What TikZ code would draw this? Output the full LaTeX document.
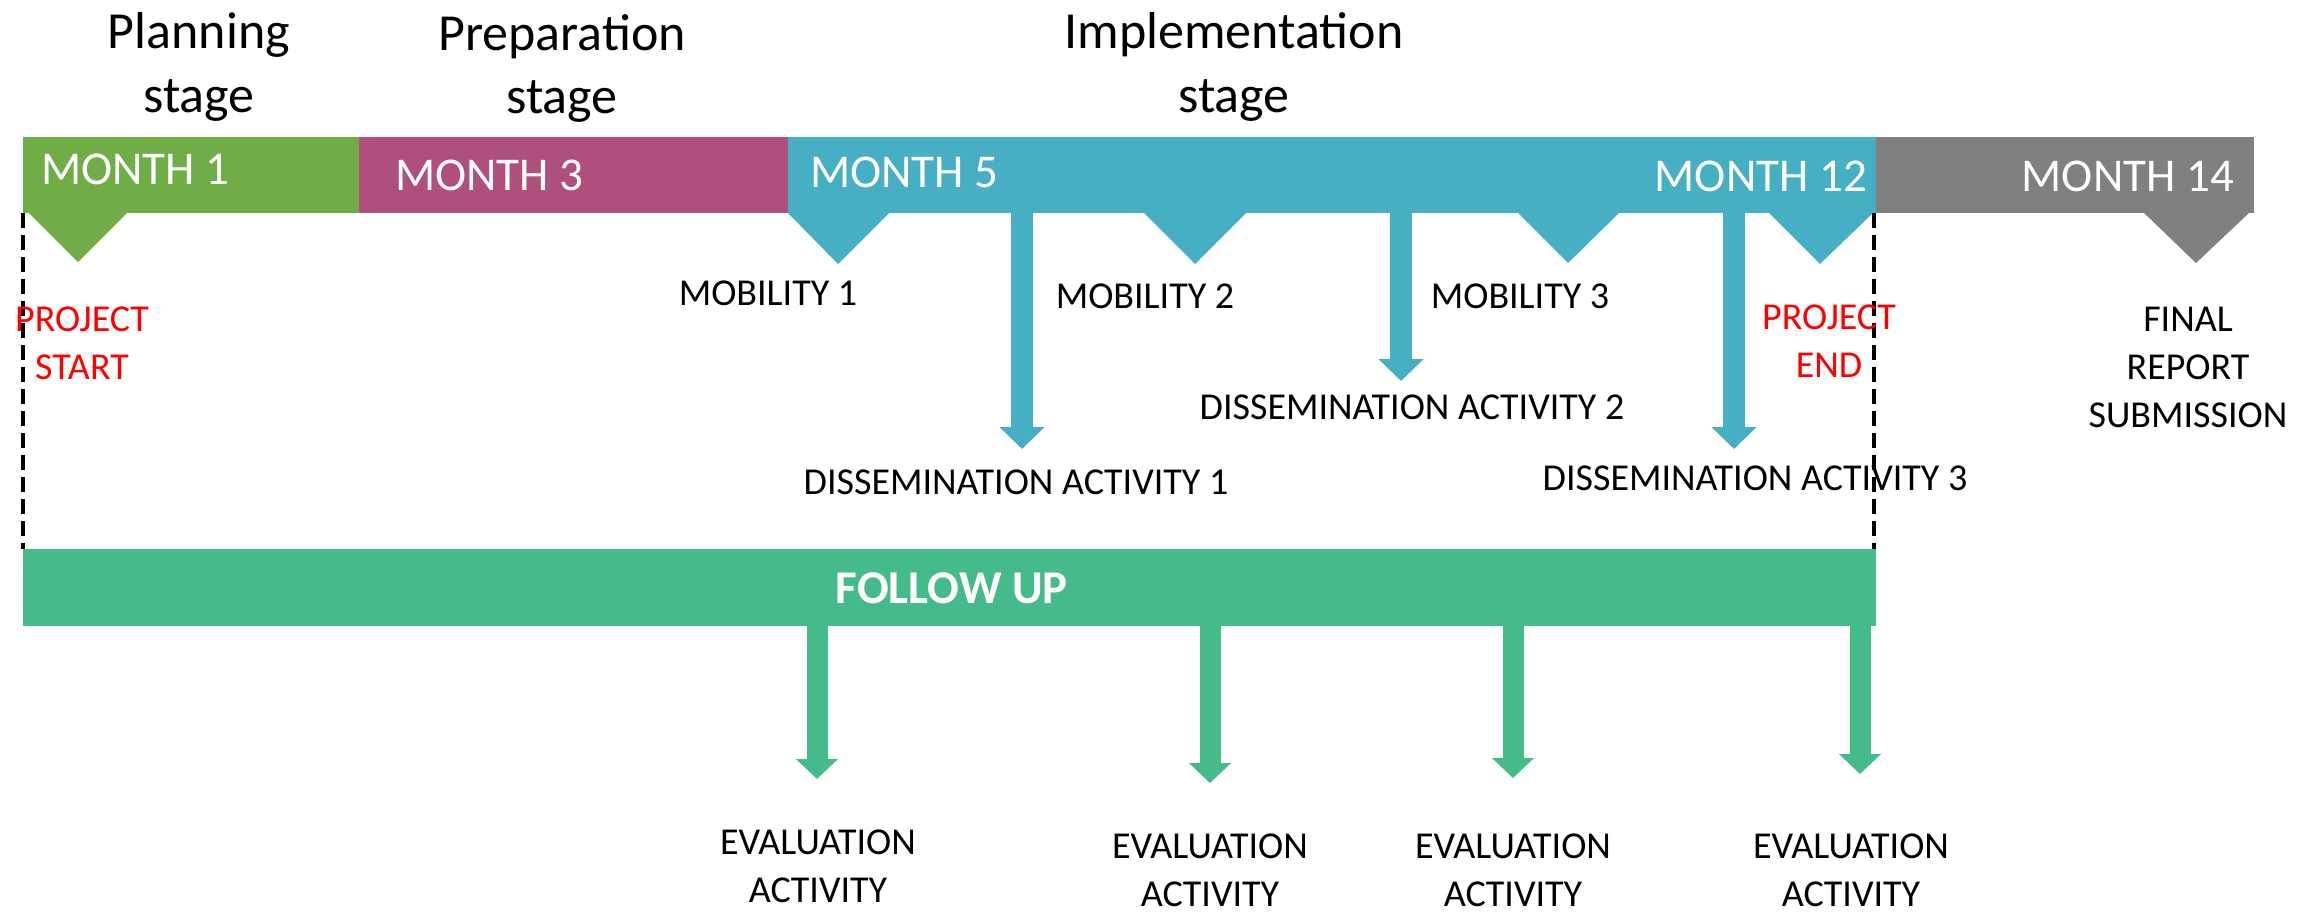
\documentclass[tikz,border=0pt]{standalone}
\usepackage{fontspec}
\setmainfont{Carlito}
\usetikzlibrary{arrows.meta}
\definecolor{mgreen}{HTML}{70AD47}
\definecolor{mpurple}{HTML}{AE4F7C}
\definecolor{mteal}{HTML}{47AFC3}
\definecolor{mgray}{HTML}{808080}
\definecolor{fgreen}{HTML}{45BB8C}
\definecolor{mred}{HTML}{FF0000}
\tikzset{
  barseg/.style={draw=none, inner sep=0pt, outer sep=0pt, anchor=north west, minimum height=76pt},
  title/.style={inner sep=0pt, anchor=base, font=\fontsize{52}{64}\selectfont},
  monthlbl/.style={inner sep=0pt, text=white, font=\fontsize{47}{56}\selectfont},
  lbl/.style={inner sep=0pt, anchor=base, align=center, font=\fontsize{38}{48}\selectfont},
  redlbl/.style={lbl, text=mred},
  tealarrow/.style={draw=mteal, line width=22pt, -{Triangle[width=44pt,length=22pt]}},
  greenarrow/.style={draw=fgreen, line width=21pt, -{Triangle[width=41pt,length=20pt]}},
  dashline/.style={draw=black, line width=4pt, dash pattern=on 15pt off 7pt},
}
\begin{document}
\begin{tikzpicture}[x=1pt,y=-1pt]
\useasboundingbox (0,0) rectangle (2323,911);
% titles
\node[title] (t1a) at (199,48) {Planning};
\node[title] (t1b) at (199,112) {stage};
\node[title] (t2a) at (562,50) {Preparation};
\node[title] (t2b) at (562,113) {stage};
\node[title] (t3a) at (1234,48) {Implementation};
\node[title] (t3b) at (1234,112) {stage};
% top bar
\node[barseg, fill=mgreen, minimum width=336pt] (b1) at (23,137) {};
\node[barseg, fill=mpurple, minimum width=429pt] (b2) at (359,137) {};
\node[barseg, fill=mteal, minimum width=1088pt] (b3) at (788,137) {};
\node[barseg, fill=mgray, minimum width=378pt] (b4) at (1876,137) {};
% triangles
\fill[mgreen] (28,212) -- (128,212) -- (78,262) -- cycle;
\fill[mteal] (787,212) -- (890,212) -- (838,264) -- cycle;
\fill[mteal] (1143,212) -- (1247,212) -- (1195,264) -- cycle;
\fill[mteal] (1517,212) -- (1620,212) -- (1568,263) -- cycle;
\fill[mteal] (1768,212) -- (1874,212) -- (1820,264) -- cycle;
\fill[mgray] (2143,212) -- (2250,212) -- (2196,263) -- cycle;
% month labels
\node[monthlbl, anchor=base west] (l1) at (41,184) {MONTH 1};
\node[monthlbl, anchor=base west] (l3) at (395,190) {MONTH 3};
\node[monthlbl, anchor=base west] (l5) at (810,187) {MONTH 5};
\node[monthlbl, anchor=base east] (l12) at (1867,191) {MONTH 12};
\node[monthlbl, anchor=base east] (l14) at (2234,191) {MONTH 14};
% follow up bar
\node[barseg, fill=fgreen, minimum width=1853pt, minimum height=77pt] (fu) at (23,549) {};
\node[inner sep=0pt, anchor=base, text=white, font=\fontsize{47}{56}\selectfont\bfseries] (fut) at (952,603) {FOLLOW UP};
% dashed lines
\draw[dashline] (b1.south west) -- (fu.north west);
\draw[dashline] ([xshift=-2pt]b3.south east) -- ([xshift=-2pt]fu.north east);
% teal arrows
\coordinate (d1) at (1022,449);
\coordinate (d2) at (1401,381);
\coordinate (d3) at (1734,449);
\draw[tealarrow] (b3.south west -| d1) -- (d1);
\draw[tealarrow] (b3.south west -| d2) -- (d2);
\draw[tealarrow] (b3.south west -| d3) -- (d3);
% green arrows
\coordinate (e1) at (817,779);
\coordinate (e2) at (1210,783);
\coordinate (e3) at (1513,778);
\coordinate (e4) at (1860,774);
\draw[greenarrow] (fu.south west -| e1) -- (e1);
\draw[greenarrow] (fu.south west -| e2) -- (e2);
\draw[greenarrow] (fu.south west -| e3) -- (e3);
\draw[greenarrow] (fu.south west -| e4) -- (e4);
% labels (multi-line nodes: base = baseline of last line)
\node[lbl] (mob1) at (768,305) {MOBILITY 1};
\node[lbl] (mob2) at (1145,308) {MOBILITY 2};
\node[lbl] (mob3) at (1520,308) {MOBILITY 3};
\node[lbl] (dis1) at (1016,494) {DISSEMINATION ACTIVITY 1};
\node[lbl] (dis2) at (1412,419) {DISSEMINATION ACTIVITY 2};
\node[lbl] (dis3) at (1755,490) {DISSEMINATION ACTIVITY 3};
\node[redlbl] (pstart) at (82,379) {PROJECT\\START};
\node[redlbl] (pend) at (1829,377) {PROJECT\\END};
\node[lbl] (final) at (2188,427) {FINAL\\REPORT\\SUBMISSION};
\node[lbl] (ev1) at (818,902) {EVALUATION\\ACTIVITY};
\node[lbl] (ev2) at (1210,906) {EVALUATION\\ACTIVITY};
\node[lbl] (ev3) at (1513,906) {EVALUATION\\ACTIVITY};
\node[lbl] (ev4) at (1851,906) {EVALUATION\\ACTIVITY};
\end{tikzpicture}
\end{document}
